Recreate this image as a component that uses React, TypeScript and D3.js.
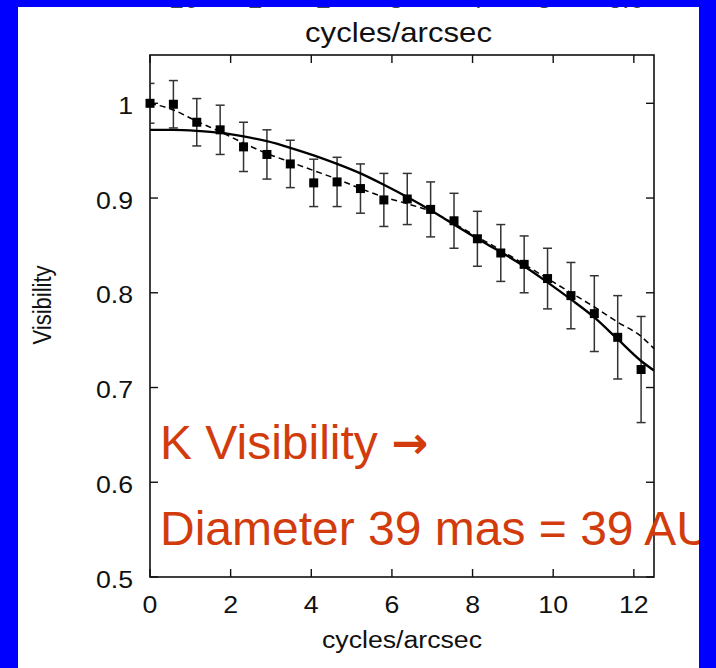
import React from "react";
import * as d3 from "d3";

// ---- data ----
const freqs = [0, 0.58, 1.16, 1.74, 2.32, 2.9, 3.48, 4.06, 4.64, 5.22, 5.8, 6.38, 6.96, 7.54, 8.12, 8.7, 9.28, 9.86, 10.44, 11.02, 11.6, 12.18];
const visibility = [1.0, 0.999, 0.98, 0.972, 0.954, 0.946, 0.936, 0.916, 0.917, 0.91, 0.898, 0.899, 0.888, 0.876, 0.857, 0.842, 0.83, 0.815, 0.797, 0.778, 0.753, 0.719];
const visErr = [0.021, 0.025, 0.025, 0.026, 0.026, 0.026, 0.025, 0.025, 0.026, 0.026, 0.028, 0.027, 0.029, 0.029, 0.029, 0.03, 0.03, 0.032, 0.035, 0.04, 0.044, 0.056];

const diskFreq = [0, 0.58, 1.16, 1.74, 2.32, 2.9, 3.48, 4.06, 4.64, 5.22, 5.8, 6.38, 6.96, 7.54, 8.12, 8.7, 9.28, 9.86, 10.44, 11.02, 11.6, 12.18, 12.5];
const diskModel = [0.972, 0.972, 0.971, 0.969, 0.965, 0.96, 0.953, 0.945, 0.936, 0.926, 0.914, 0.901, 0.887, 0.872, 0.857, 0.843, 0.828, 0.811, 0.793, 0.774, 0.751, 0.728, 0.718];

const fitFreq = [0, 0.58, 1.16, 1.74, 2.32, 2.9, 3.48, 4.06, 4.64, 5.22, 5.8, 6.38, 6.96, 7.54, 8.12, 8.7, 9.28, 9.86, 10.44, 11.02, 11.6, 12.18, 12.5];
const fitModel = [1.0, 0.993, 0.981, 0.97, 0.958, 0.947, 0.938, 0.929, 0.92, 0.91, 0.901, 0.894, 0.886, 0.873, 0.859, 0.845, 0.83, 0.815, 0.8, 0.785, 0.769, 0.754, 0.741];

const xTicks = [0, 2, 4, 6, 8, 10, 12];
const yTicks = [0.5, 0.6, 0.7, 0.8, 0.9, 1.0];
const yTickLabels = ["0.5", "0.6", "0.7", "0.8", "0.9", "1"];
const topFragments = [0.84, 2.6, 4.3, 6.1, 8.07, 9.78, 11.8];
const topFragmentLabels = ["10", "1", "2", "3", "4", "5", "6.0"];

const axisTitle = "cycles/arcsec";
const yTitle = "Visibility";
const note1 = "K Visibility ";
const note1Arrow = "\u2192";
const note2 = "Diameter 39 mas = 39 AU";

export default function App() {
  const W = 716, H = 668;
  const L = 150, R = 654, T = 55, B = 577;
  const x = d3.scaleLinear().domain([0, 12.5]).range([L, R]);
  const y = d3.scaleLinear().domain([0.5, 1.0]).range([B, 103.3]);
  const font = "'Liberation Sans', Arial, Helvetica, sans-serif";
  const tickLen = 8;
  const sx = 1.16; // the figure is stretched horizontally

  const lineGen = d3.line<[number, number]>()
    .x(d => x(d[0]))
    .y(d => y(d[1]))
    .curve(d3.curveMonotoneX);

  const diskPath = lineGen(diskFreq.map((f, i) => [f, diskModel[i]] as [number, number])) || "";
  const fitPath = lineGen(fitFreq.map((f, i) => [f, fitModel[i]] as [number, number])) || "";

  const red = "#D23C0C";
  const ink = "#111";

  const T2 = (px: number, py: number, s: string, size: number, anchor: string, key?: string, extra?: any) => (
    <text key={key} transform={`translate(${px},${py}) scale(${sx},1)`} textAnchor={anchor as any}
      fontFamily={font} fontSize={size} fill={ink} {...(extra || {})}>{s}</text>
  );

  return (
    <div style={{ position: "absolute", left: 0, top: 0, width: W, height: H }}>
      <svg width={W} height={H} style={{ display: "block" }}>
        <defs>
          <clipPath id="panel">
            <rect x={18} y={7} width={681} height={H - 7} />
          </clipPath>
          <clipPath id="plot">
            <rect x={L} y={T} width={R - L} height={B - T} />
          </clipPath>
        </defs>
        <rect x={0} y={0} width={W} height={H} fill="#0000FF" />
        <rect x={18} y={7} width={681} height={H - 7} fill="#FFFFFF" />

        <g clipPath="url(#panel)">
          {/* top-axis tick labels, almost entirely cut off by the slide edge */}
          {topFragments.map((f, i) => T2(x(f), 8.3, topFragmentLabels[i], 23, "middle", "tf" + i, { fill: "#444" }))}
          <text transform={`translate(398.5,41.7) scale(1.155,1)`} textAnchor="middle" fontFamily={font} fontSize={27} fill={ink}>{axisTitle}</text>

          {/* frame */}
          <rect x={L} y={T} width={R - L} height={B - T} fill="none" stroke={ink} strokeWidth={1.6} />

          {/* ticks */}
          {xTicks.map(t => (
            <g key={"xt" + t}>
              <line x1={x(t)} x2={x(t)} y1={B} y2={B - tickLen} stroke={ink} strokeWidth={1.4} />
              <line x1={x(t)} x2={x(t)} y1={T} y2={T + tickLen} stroke={ink} strokeWidth={1.4} />
              {T2(x(t), 613.3, String(t), 23, "middle")}
            </g>
          ))}
          {yTicks.map((t, i) => (
            <g key={"yt" + t}>
              <line x1={L} x2={L + tickLen} y1={y(t)} y2={y(t)} stroke={ink} strokeWidth={1.4} />
              <line x1={R} x2={R - tickLen} y1={y(t)} y2={y(t)} stroke={ink} strokeWidth={1.4} />
              {T2(133, y(t) + 10.5, yTickLabels[i], 23, "end")}
            </g>
          ))}

          {T2(402, 648.3, axisTitle, 23, "middle")}
          <text transform={`translate(42, 305) rotate(-90) scale(1,${sx})`} textAnchor="middle" dominantBaseline="central" fontFamily={font} fontSize={22} fill={ink}>{yTitle}</text>

          <g clipPath="url(#plot)">
            {/* error bars */}
            {freqs.map((f, i) => {
              const cx = x(f);
              const y1 = y(visibility[i] + visErr[i]);
              const y2 = y(visibility[i] - visErr[i]);
              return (
                <g key={"eb" + i} stroke="#333" strokeWidth={1.5}>
                  <line x1={cx} x2={cx} y1={y1} y2={y2} />
                  <line x1={cx - 4.5} x2={cx + 4.5} y1={y1} y2={y1} />
                  <line x1={cx - 4.5} x2={cx + 4.5} y1={y2} y2={y2} />
                </g>
              );
            })}
            <path d={diskPath} fill="none" stroke="#000" strokeWidth={2.3} />
            <path d={fitPath} fill="none" stroke="#000" strokeWidth={1.5} strokeDasharray="6,4" />
          </g>
          {freqs.map((f, i) => (
            <rect key={"pt" + i} x={x(f) - 4.5} y={y(visibility[i]) - 4.5} width={9} height={9} fill="#000" />
          ))}

          {/* slide annotations */}
          <text x={160} y={459} fontFamily={font} fontSize={48} fill={red}>
            {note1}
            <tspan fontFamily="'DejaVu Sans', sans-serif" fontWeight="bold" fontSize={44} dy={-1}>{note1Arrow}</tspan>
          </text>
          <text x={160} y={545} fontFamily={font} fontSize={48} fill={red}>{note2}</text>
        </g>
      </svg>
    </div>
  );
}
